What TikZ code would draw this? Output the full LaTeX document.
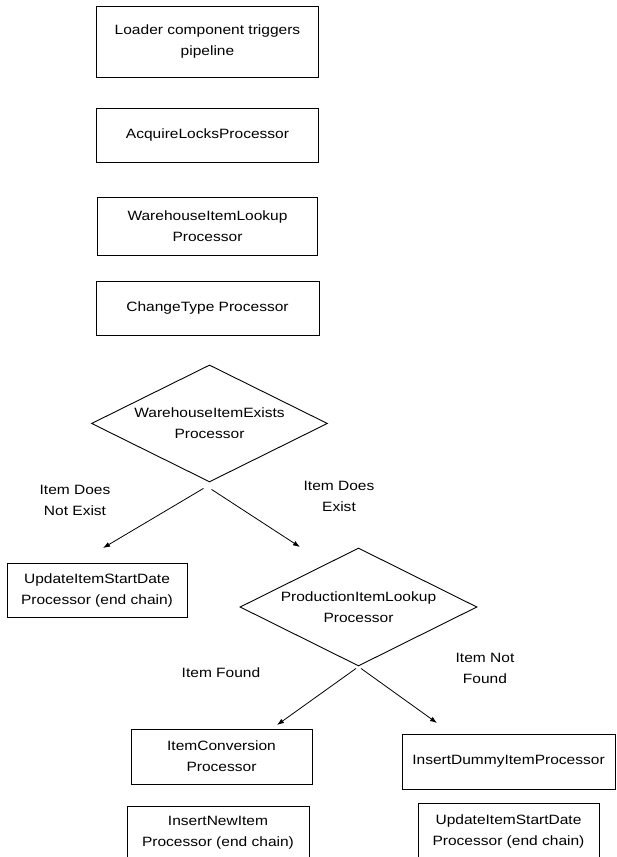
\documentclass[tikz,border=0pt]{standalone}
\usepackage{fontspec}
\setmainfont[FakeStretch=1.15]{Liberation Sans}
\usetikzlibrary{arrows.meta,positioning,shapes.geometric}
\tikzset{
    stagebox/.style={rectangle,draw,line width=1pt,align=center,minimum width=222pt,minimum height=54pt,inner sep=0pt},
    endbox/.style={stagebox,minimum width=181pt},
    checkpoint/.style={diamond,draw,line width=0.9pt,align=center,shape aspect=2,minimum width=236pt,minimum height=117pt,inner sep=0pt},
    branchline/.style={-{Latex[length=7pt,width=5pt]},line width=0.8pt},
    branchtext/.style={align=center}
}

\begin{document}
\begin{tikzpicture}[x=1pt,y=-1pt,every node/.style={font=\fontsize{13.5pt}{21pt}\selectfont}]
            \useasboundingbox (0,0) rectangle (616,857);
            \node[stagebox,minimum height=71pt] (loader) at (207.5,41.5) {Loader component triggers\\pipeline};
            \node[stagebox,below=30pt of loader] (locks) {AcquireLocksProcessor};
            \node[stagebox,minimum width=220pt,minimum height=58pt,below=34pt of locks] (whlookup) {WarehouseItemLookup\\Processor};
            \node[stagebox,minimum width=223pt,below=25pt of whlookup] (changetype) {ChangeType Processor};
            \node[checkpoint,below=29pt of changetype,xshift=2pt] (whexists) {WarehouseItemExists\\Processor};
            \node[endbox,minimum width=180pt] (startdateA) at (97,590) {UpdateItemStartDate\\Processor (end chain)};
            \node[checkpoint,minimum width=237pt,minimum height=118pt] (prodlookup) at (358.5,607) {ProductionItemLookup\\Processor};
            \node[endbox,minimum height=55pt] (conversion) at (221.5,756.5) {ItemConversion\\Processor};
            \node[endbox,minimum width=213pt,minimum height=55pt] (dummy) at (508.5,761.5) {InsertDummyItemProcessor};
            \node[endbox,minimum width=182pt,below=21pt of conversion,xshift=-3.5pt] (newitem) {InsertNewItem\\Processor (end chain)};
            \node[endbox,minimum height=56pt,below=13pt of dummy] (startdateB) {UpdateItemStartDate\\Processor (end chain)};
            % branch labels
            \node[branchtext] (notexist) at (75,500) {Item Does\\Not Exist};
            \node[branchtext] (exists) at (339,496) {Item Does\\Exist};
            \node[branchtext] (found) at (221,673) {Item Found};
            \node[branchtext] (notfound) at (485,668) {Item Not\\Found};
            % arrow ends
            \coordinate (tipA) at (103,548);
            \coordinate (tipB) at (300,547);
            \coordinate (tipC) at (277,725);
            \coordinate (tipD) at (437,723);
            \draw[branchline] ([xshift=-6pt,yshift=-6pt]whexists.south) -- (tipA);
            \draw[branchline] ([xshift=2pt,yshift=-7pt]whexists.south) -- (tipB);
            \draw[branchline] ([xshift=-2.5pt,yshift=-2pt]prodlookup.south) -- (tipC);
            \draw[branchline] ([xshift=2.5pt,yshift=-2pt]prodlookup.south) -- (tipD);
        \end{tikzpicture}
\end{document}
